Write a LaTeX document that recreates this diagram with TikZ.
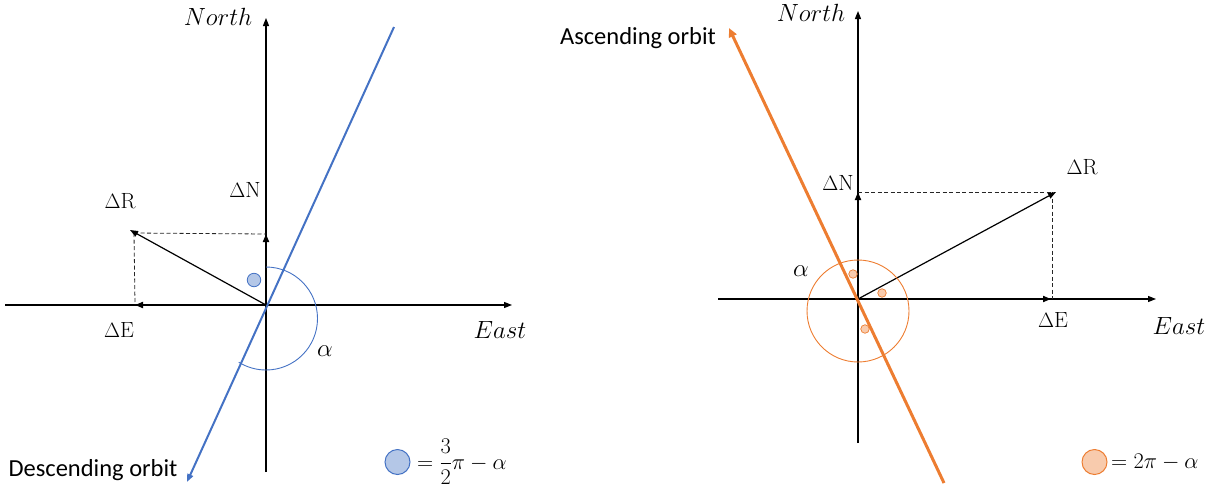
\documentclass[tikz,border=0pt]{standalone}
\usepackage{fontspec}
\newfontfamily\calib{Carlito}
\usetikzlibrary{arrows.meta}
\definecolor{cblue}{HTML}{4472C4}
\definecolor{lblue}{HTML}{B4C7E7}
\definecolor{corange}{HTML}{ED7D31}
\definecolor{lorange}{HTML}{F8CBAD}
\begin{document}
\begin{tikzpicture}[x=1pt,y=-1pt,
  font=\fontsize{22}{26}\selectfont,
  tip/.style={-{Triangle[length=8pt,width=6pt]}},
  axisline/.style={tip,line width=1.2pt,black},
  comp/.style={tip,line width=1.8pt,black},
  res/.style={tip,line width=1.2pt,black},
  guide/.style={dash pattern=on 4pt off 2.5pt,line width=0.8pt,black!85},
  lbl/.style={inner sep=0pt},
  biglbl/.style={inner sep=0pt,font=\fontsize{24}{28}\selectfont},
  textlbl/.style={inner sep=0pt,font=\calib\fontsize{24.5}{28}\selectfont},
  marker/.style={circle,inner sep=0pt,minimum size=#1},
]
\useasboundingbox (0,0) rectangle (1217,491);

% ---------------- left diagram ----------------
\coordinate (O1) at (266,305);
\coordinate (N1s) at (266,472);
\coordinate (N1t) at (266,18);
\coordinate (E1s) at (5,305);
\coordinate (E1t) at (512,305);
\coordinate (dN1) at (266,234);
\coordinate (dE1) at (135,305);
\coordinate (dR1) at (130,230);
\coordinate (cR1) at (134,233);
\coordinate (B1) at (394,27);
\coordinate (B2) at (187,482);

\draw[axisline] (N1s) -- (N1t);
\draw[axisline] (E1s) -- (E1t);
\draw[guide] (cR1) -- (dN1);
\draw[guide] (cR1) -- (dE1);
\draw[comp] (O1) -- (dN1);
\draw[comp] (O1) -- (dE1);
\draw[res] (O1) -- (dR1);
\draw[cblue,line width=2pt,-{Triangle[length=8pt,width=6pt]}] (B1) -- (B2);
\draw[cblue,line width=0.9pt] (266,267) arc[start angle=-90,end angle=122,radius=51.5];
\node[marker=13.5pt,draw=cblue,fill=lblue,line width=0.8pt] (m1) at (254,280) {};

\node[biglbl] (north1) at (218,17) {$North$};
\node[biglbl] (east1) at (500,330) {$East$};
\node[lbl] (lN1) at (245,190) {$\Delta\mathrm{N}$};
\node[lbl] (lR1) at (120,201) {$\Delta\mathrm{R}$};
\node[lbl] (lE1) at (119,330) {$\Delta\mathrm{E}$};
\node[biglbl] (a1) at (325,351) {$\alpha$};
\node[textlbl] (desc) at (93,470) {Descending orbit};

\node[marker=25pt,draw=cblue,fill=lblue,line width=1pt] (leg1) at (397.5,462) {};
\node[biglbl,anchor=west] (legt1) at (417,462) {\scalebox{0.9}{$=\displaystyle\frac{3}{2}\pi-\alpha$}};

% ---------------- right diagram ----------------
\coordinate (O2) at (858,299);
\coordinate (N2s) at (858,443);
\coordinate (N2t) at (858,11);
\coordinate (E2s) at (718,299);
\coordinate (E2t) at (1156,299);
\coordinate (dN2) at (858,192);
\coordinate (dE2) at (1051,299);
\coordinate (dR2) at (1056,192);
\coordinate (cR2) at (1052,192);
\coordinate (A1) at (944,483);
\coordinate (A2) at (729,28);

\draw[axisline] (N2s) -- (N2t);
\draw[axisline] (E2s) -- (E2t);
\draw[guide] (dN2) -- (cR2);
\draw[guide] (cR2) -- (1052,299);
\draw[comp] (O2) -- (dN2);
\draw[comp] (O2) -- (dE2);
\draw[res] (O2) -- (dR2);
\draw[corange,line width=0.9pt] (858,311) circle[radius=51];
\draw[corange,line width=3pt,-{Triangle[length=9pt,width=8pt]}] (A1) -- (A2);
\node[marker=8.5pt,draw=corange,fill=lorange,line width=0.7pt] (s1) at (853,274) {};
\node[marker=8.5pt,draw=corange,fill=lorange,line width=0.7pt] (s2) at (882,293) {};
\node[marker=8.5pt,draw=corange,fill=lorange,line width=0.7pt] (s3) at (865,329) {};

\node[biglbl] (north2) at (811,13) {$North$};
\node[biglbl] (east2) at (1179,326) {$East$};
\node[lbl] (lN2) at (838,183) {$\Delta\mathrm{N}$};
\node[lbl] (lR2) at (1082,167) {$\Delta\mathrm{R}$};
\node[lbl] (lE2) at (1053,320) {$\Delta\mathrm{E}$};
\node[biglbl] (a2) at (801,271) {$\alpha$};
\node[textlbl] (asc) at (638,38) {Ascending orbit};

\node[marker=25pt,draw=corange,fill=lorange,line width=1pt] (leg2) at (1094.5,462) {};
\node[biglbl,anchor=west] (legt2) at (1111,462) {\scalebox{0.9}{$=2\pi-\alpha$}};
\end{tikzpicture}
\end{document}
